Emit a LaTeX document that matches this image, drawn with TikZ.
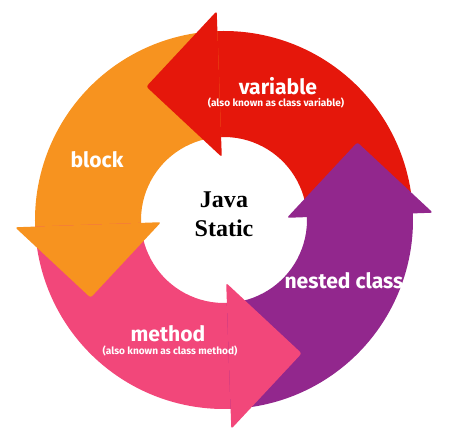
\documentclass[tikz,border=0pt]{standalone}
\usepackage{fontspec}
\setmainfont{Liberation Serif}
\setsansfont{Fira Sans}
\usetikzlibrary{positioning}
\definecolor{varred}{HTML}{E5170B}
\definecolor{blockorange}{HTML}{F7931F}
\definecolor{methodpink}{HTML}{F2477A}
\definecolor{nestedpurple}{HTML}{92278D}
\tikzset{
    band label/.style={font=\sffamily\bfseries\fontsize{18}{18}\selectfont, text=white, inner sep=0pt},
    band note/.style={font=\sffamily\bfseries\fontsize{8.6}{9}\selectfont, text=white, inner sep=0pt},
    hub label/.style={font=\bfseries\fontsize{20.5}{24.5}\selectfont, align=center, inner sep=0pt}
}
\begin{document}
\begin{tikzpicture}[x=0.3mm, y=0.3mm]
    \def\router{189}
    \def\rinner{83}
    \def\rmid{136}
    \def\halfhead{73}

    \useasboundingbox (-224,-219) rectangle (235,220);

    % draw ring pieces
    \foreach \ang/\co in {92/varred, 182/blockorange, 272/methodpink, 2/nestedpurple}
    {
        \fill[\co] (\ang+1:\router) arc[start angle=\ang+1, end angle=\ang-90, radius=\router]
            -- (\ang-90:\rinner) arc[start angle=\ang-90, end angle=\ang+1, radius=\rinner] -- cycle;
    }

    % draw arrow heads
    \foreach \ang/\co in {92/varred, 182/blockorange, 272/methodpink, 2/nestedpurple}
    {
        \fill[\co, rounded corners=2pt, rotate=\ang]
            (\rmid-\halfhead,0) -- (\rmid+\halfhead,0) -- (\rmid,\halfhead) -- cycle;
    }

    % labels
    \node[band label] (variable) at (54,134) {variable};
    \node[band note] (variablenote) at (52,117) {(also known as class variable)};
    \node[band label] (block) at (-127,60) {block};
    \node[band label] (nested) at (120,-61) {nested class};
    \node[band label] (method) at (-56,-114) {method};
    \node[band note] (methodnote) at (-54,-131) {(also known as class method)};
    \node[hub label] (hub) at (0,6) {Java\\Static};
\end{tikzpicture}
\end{document}
